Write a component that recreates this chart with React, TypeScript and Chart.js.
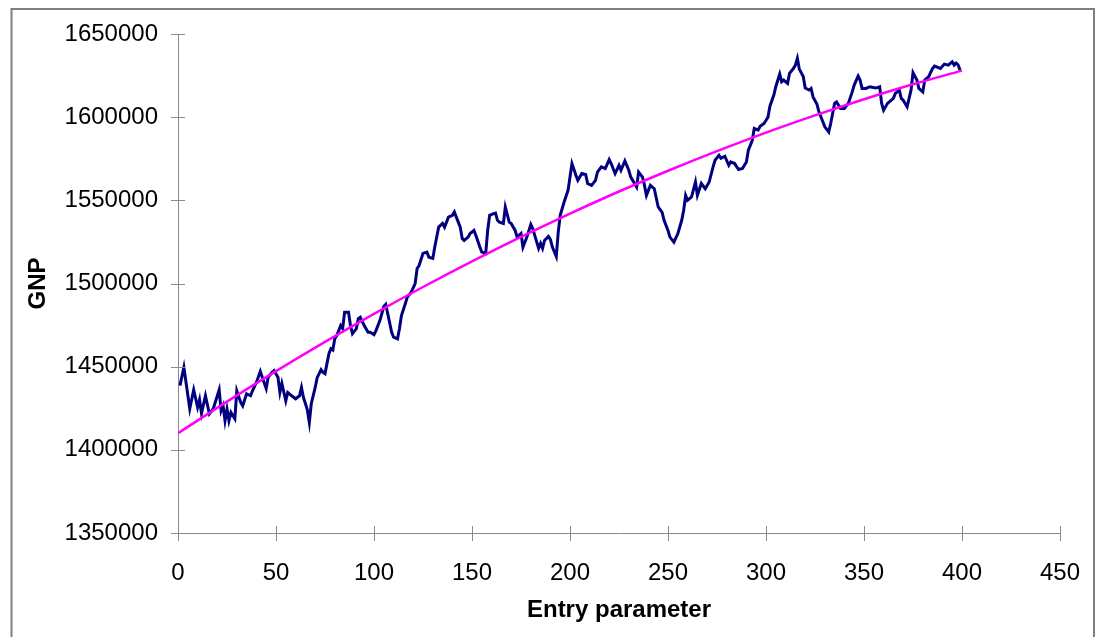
import React, { useEffect, useRef } from "react";
import { Chart, registerables } from "chart.js";

Chart.register(...registerables);

// Entry parameter values (x) of the GNP series
const entryParams: number[] = [
  1, 3, 6, 8, 10, 11, 12, 14, 16, 18, 21, 22, 23, 24, 25, 26, 27, 29, 30, 32,
  33, 35, 37, 38, 40, 42, 43, 45, 46, 48, 49, 51, 52, 53, 55, 56, 58, 60, 62, 63,
  64, 66, 67, 68, 70, 71, 73, 74, 75, 77, 78, 79, 80, 81, 83, 84, 85, 87, 88, 89,
  91, 92, 93, 95, 97, 98, 100, 101, 103, 105, 106, 107, 109, 110, 112, 113, 114, 116, 117, 119,
  121, 122, 123, 125, 127, 128, 130, 131, 133, 135, 136, 138, 140, 141, 142, 144, 145, 146, 148, 149,
  151, 152, 154, 155, 157, 158, 159, 161, 162, 163, 164, 166, 167, 169, 170, 172, 173, 175, 176, 178,
  180, 181, 182, 184, 185, 186, 187, 189, 190, 191, 193, 194, 195, 197, 199, 200, 201, 203, 204, 205,
  206, 208, 209, 211, 213, 214, 216, 218, 220, 221, 223, 225, 226, 228, 230, 231, 232, 234, 235, 237,
  238, 239, 241, 243, 245, 247, 248, 250, 251, 253, 255, 257, 258, 259, 260, 262, 264, 265, 267, 269,
  271, 273, 274, 276, 277, 279, 281, 282, 284, 286, 288, 290, 291, 293, 294, 296, 297, 299, 301, 302,
  304, 305, 307, 308, 309, 311, 312, 314, 315, 316, 317, 319, 320, 322, 323, 324, 326, 327, 329, 330,
  332, 333, 335, 336, 338, 340, 342, 344, 345, 347, 348, 349, 351, 353, 356, 358, 359, 360, 362, 365,
  366, 368, 369, 370, 372, 374, 375, 377, 378, 380, 381, 383, 385, 386, 389, 391, 393, 395, 396, 397,
  398, 399,
];

// GNP values
const gnpValues: number[] = [
  1438600, 1449600, 1424700, 1436100, 1425500, 1430100, 1421900, 1432500, 1421700, 1424700,
  1436100, 1423500, 1426500, 1417500, 1424500, 1417500, 1422500, 1418700, 1435500, 1428500,
  1426500, 1433700, 1432500, 1435500, 1440500, 1447200, 1443600, 1436800, 1443600, 1446600,
  1447600, 1443600, 1434500, 1439900, 1429500, 1434500, 1432500, 1430700, 1432500, 1437500,
  1431500, 1424000, 1416500, 1427700, 1437500, 1443400, 1448200, 1446600, 1445800, 1457800,
  1460800, 1460000, 1466900, 1468700, 1474700, 1472900, 1482700, 1482700, 1474700, 1469900,
  1472900, 1478900, 1479700, 1474700, 1470700, 1470700, 1469300, 1471700, 1477700, 1486100,
  1487400, 1481900, 1470700, 1467700, 1466700, 1472900, 1480700, 1488000, 1491800, 1494800,
  1500000, 1509000, 1510800, 1518100, 1518900, 1515800, 1515100, 1521900, 1533900, 1536100,
  1533900, 1539900, 1541000, 1543000, 1539900, 1533900, 1527100, 1525900, 1527900, 1530100,
  1531900, 1528900, 1521900, 1518900, 1518100, 1531900, 1541000, 1542000, 1542300, 1538000,
  1536900, 1536100, 1546000, 1536900, 1536100, 1531900, 1527900, 1530100, 1521900, 1527900,
  1535500, 1533000, 1528900, 1521100, 1524100, 1521100, 1525900, 1528300, 1526500, 1521900,
  1516300, 1530900, 1541000, 1549000, 1556000, 1564000, 1572100, 1565100, 1562000, 1564000,
  1566100, 1565500, 1560100, 1559000, 1562000, 1567000, 1570100, 1569100, 1574500, 1572100,
  1566100, 1571100, 1568100, 1573700, 1568100, 1564000, 1562000, 1558000, 1567000, 1564000,
  1559000, 1553000, 1559000, 1557000, 1546000, 1542800, 1538000, 1531900, 1527900, 1524900,
  1529900, 1538000, 1544000, 1553000, 1550000, 1552000, 1561000, 1553000, 1560100, 1557000,
  1561000, 1570100, 1574100, 1577100, 1575300, 1576500, 1571100, 1573100, 1572100, 1568500,
  1569100, 1573100, 1580100, 1586100, 1593200, 1592200, 1594500, 1596200, 1600000, 1606600,
  1613300, 1618300, 1625900, 1621300, 1622300, 1620300, 1626300, 1629300, 1631300, 1635400,
  1628900, 1624400, 1617500, 1616300, 1617300, 1612200, 1607800, 1603200, 1597200, 1594200,
  1591100, 1596200, 1608300, 1609200, 1605200, 1605200, 1608300, 1615200, 1619300, 1624700,
  1622300, 1617300, 1617300, 1618300, 1617500, 1618300, 1608300, 1604200, 1608300, 1611300,
  1614300, 1616300, 1611300, 1610200, 1606200, 1616300, 1626700, 1622300, 1617300, 1615200,
  1622300, 1624300, 1629300, 1630700, 1629300, 1631900, 1631300, 1633300, 1631300, 1632500,
  1631500, 1628300,
];

// Trend line (read at regular entry-parameter positions)
const trendX: number[] = [0, 25, 50, 75, 100, 125, 150, 175, 200, 225, 250, 275, 300, 325, 350, 375, 400];
const trendValues: number[] = [
  1410000, 1429000, 1447300, 1464900, 1481750, 1497900, 1513300, 1528000, 1542000,
  1555300, 1567800, 1579600, 1590750, 1601100, 1610800, 1619800, 1628000,
];

const FONT = '"Liberation Sans", Arial, Helvetica, sans-serif';
const AXIS_COLOR = "#888888";

const tickMarksPlugin = {
  id: "tickMarks",
  afterDraw(chart: any) {
    const ctx = chart.ctx;
    const xs = chart.scales.x;
    const ys = chart.scales.y;
    const area = chart.chartArea;
    ctx.save();
    ctx.strokeStyle = AXIS_COLOR;
    ctx.lineWidth = 1;
    ctx.beginPath();
    ys.ticks.forEach((t: any) => {
      const py = Math.round(ys.getPixelForValue(t.value)) + 0.5;
      ctx.moveTo(area.left - 7, py);
      ctx.lineTo(area.left + 7, py);
    });
    xs.ticks.forEach((t: any) => {
      const px = Math.round(xs.getPixelForValue(t.value)) + 0.5;
      ctx.moveTo(px, area.bottom - 7);
      ctx.lineTo(px, area.bottom + 8);
    });
    ctx.stroke();
    // outer frame
    ctx.strokeStyle = "#7f7f7f";
    ctx.lineWidth = 2;
    ctx.strokeRect(11.5, 9, 1094 - 11.5, 700);
    ctx.restore();
  },
};

export default function App() {
  const ref = useRef<HTMLCanvasElement | null>(null);

  useEffect(() => {
    if (!ref.current) return;
    const gnpData = entryParams.map((x, i) => ({ x, y: gnpValues[i] }));
    const trendData = trendX.map((x, i) => ({ x, y: trendValues[i] }));
    const chart = new Chart(ref.current, {
      type: "line",
      data: {
        datasets: [
          {
            label: "GNP",
            data: gnpData,
            borderColor: "#000080",
            borderWidth: 3,
            pointRadius: 0,
            tension: 0,
            order: 1,
          },
          {
            label: "Trend",
            data: trendData,
            borderColor: "#ff00ff",
            borderWidth: 2.5,
            pointRadius: 0,
            cubicInterpolationMode: "monotone",
            order: 0,
          },
        ],
      },
      options: {
        animation: false,
        responsive: false,
        maintainAspectRatio: false,
        layout: { padding: { left: 0, top: 34, right: 39, bottom: 0 } },
        plugins: {
          legend: { display: false },
          tooltip: { enabled: false },
        },
        scales: {
          x: {
            type: "linear",
            min: 0,
            max: 450,
            ticks: {
              stepSize: 50,
              autoSkip: false,
              maxRotation: 0,
              padding: 26,
              color: "#000",
              font: { family: FONT, size: 24 },
            },
            grid: { display: false, drawTicks: false },
            border: { display: true, color: AXIS_COLOR, width: 1 },
            title: {
              display: true,
              text: "Entry parameter",
              color: "#000",
              font: { family: FONT, size: 24, weight: "bold" },
              padding: { top: 0, bottom: 12 },
            },
            afterFit: (s: any) => {
              s.height = 104;
              s.paddingLeft = 0;
              s.paddingRight = 0;
            },
          },
          y: {
            type: "linear",
            min: 1350000,
            max: 1650000,
            ticks: {
              stepSize: 50000,
              padding: 20,
              color: "#000",
              font: { family: FONT, size: 24 },
              callback: (v: any) => String(v),
            },
            grid: { display: false, drawTicks: false },
            border: { display: true, color: AXIS_COLOR, width: 1 },
            title: {
              display: true,
              text: "GNP",
              color: "#000",
              font: { family: FONT, size: 24, weight: "bold" },
              padding: { top: 24, bottom: 0 },
            },
            afterFit: (s: any) => {
              s.width = 178;
              s.paddingTop = 0;
              s.paddingBottom = 0;
            },
          },
        },
      },
      plugins: [tickMarksPlugin],
    });
    return () => chart.destroy();
  }, []);

  return (
    <div style={{ position: "absolute", left: 0, top: 0, width: 1099, height: 637, background: "#fff" }}>
      <canvas ref={ref} width={1099} height={637} style={{ display: "block", width: 1099, height: 637 }} />
    </div>
  );
}
